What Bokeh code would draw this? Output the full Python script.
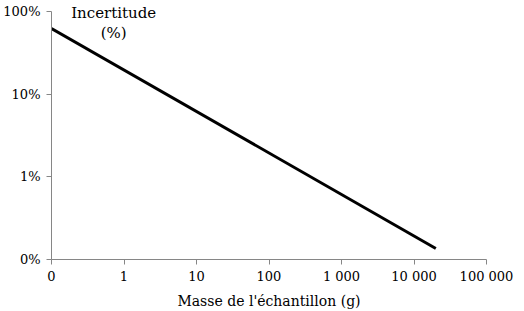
from bokeh.plotting import figure
from bokeh.models import FixedTicker, Label
from bokeh.embed import file_html
from bokeh.resources import INLINE

# Data (sample mass in g, uncertainty as fraction)
masse = [0.1, 20000]
incertitude = [0.62, 0.00136]

x_ticks = [0.1, 1, 10, 100, 1000, 10000, 100000]
x_labels = ["0", "1", "10", "100", "1 000", "10 000", "100 000"]
y_ticks = [0.001, 0.01, 0.1, 1]
y_labels = ["0%", "1%", "10%", "100%"]

FONT = "DejaVu Serif"

p = figure(width=524, height=311, x_axis_type="log", y_axis_type="log",
           x_range=(0.1, 100000), y_range=(0.001, 1.35),
           output_backend="svg", toolbar_location=None,
           min_border_left=50, min_border_right=38, min_border_top=0, min_border_bottom=40)
p.outline_line_color = None
p.xgrid.visible = False
p.ygrid.visible = False

p.line(masse, incertitude, line_color="black", line_width=3)

for ax in (p.xaxis[0], p.yaxis[0]):
    ax.axis_line_color = "#868686"
    ax.major_tick_line_color = "#868686"
    ax.major_tick_out = 5
    ax.major_tick_in = 0
    ax.minor_tick_line_color = None
    ax.major_label_text_font = FONT
    ax.major_label_text_font_size = "13px"
    ax.major_label_text_color = "black"

p.xaxis[0].ticker = FixedTicker(ticks=x_ticks)
p.xaxis[0].major_label_overrides = {t: l for t, l in zip(x_ticks, x_labels)}
p.xaxis[0].major_label_standoff = 4
p.yaxis[0].ticker = FixedTicker(ticks=y_ticks)
p.yaxis[0].major_label_overrides = {t: l for t, l in zip(y_ticks, y_labels)}
p.yaxis[0].major_label_standoff = 6
p.yaxis[0].bounds = (0.001, 1)

p.xaxis[0].axis_label = "Masse de l'échantillon (g)"
p.xaxis[0].axis_label_text_font = FONT
p.xaxis[0].axis_label_text_font_size = "14px"
p.xaxis[0].axis_label_text_font_style = "normal"
p.xaxis[0].axis_label_text_color = "black"
p.xaxis[0].axis_label_standoff = 6

p.add_layout(Label(x=0.72, y=0.95, text="Incertitude", text_align="center",
                   text_baseline="middle", text_font=FONT, text_font_size="15px",
                   text_color="black"))
p.add_layout(Label(x=0.72, y=0.54, text="(%)", text_align="center",
                   text_baseline="middle", text_font=FONT, text_font_size="15px",
                   text_color="black"))

open("out.html", "w").write(file_html(p, INLINE))
